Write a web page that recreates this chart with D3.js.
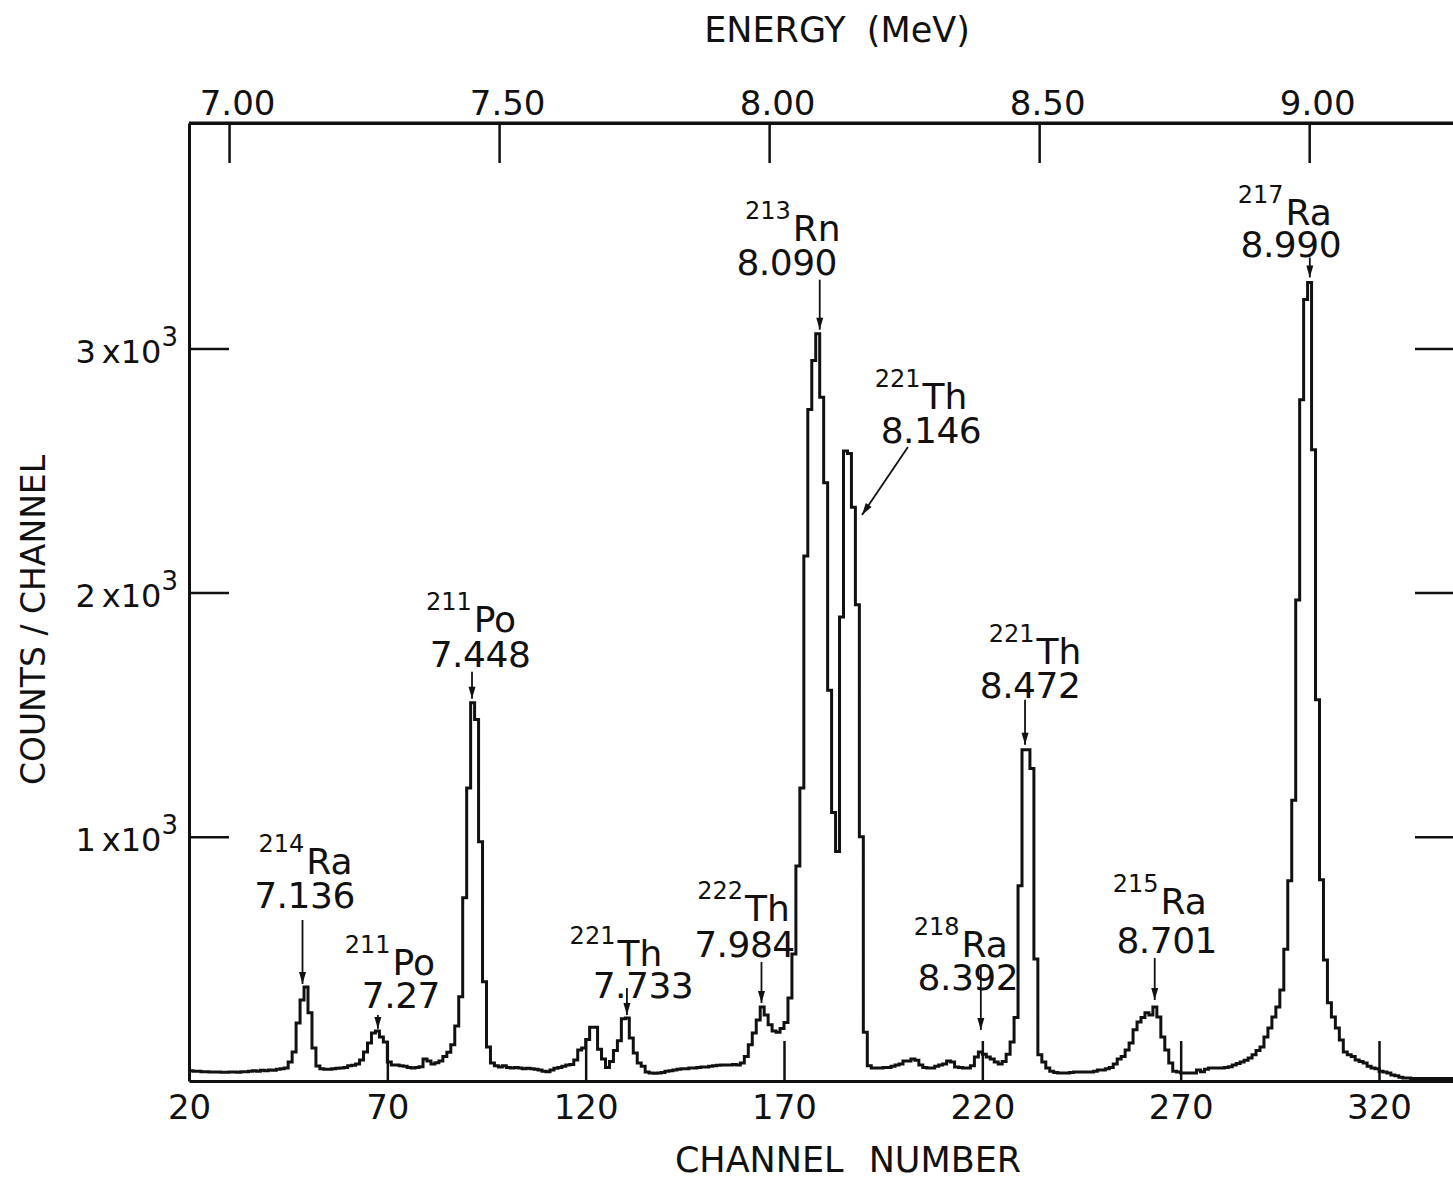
<!DOCTYPE html>
<html>
<head>
<meta charset="utf-8">
<script src="https://cdn.jsdelivr.net/npm/d3@7"></script>
<style>
  body { margin: 0; background: #fff; }
  svg text { font-family: "DejaVu Sans", sans-serif; fill: #111; }
</style>
</head>
<body>
<script>
// counts per channel, channels 20 .. 339
const firstChannel = 20;
const counts = [
    42, 40, 40, 38, 38, 37, 37, 37, 36, 36,          // 20
    37, 37, 36, 38, 38, 40, 42, 40, 44, 42,          // 30
    45, 44, 48, 50, 53, 78, 119, 238, 332, 385,      // 40
    279, 135, 61, 50, 48, 48, 50, 52, 53, 55,        // 50
    62, 64, 70, 86, 119, 156, 197, 205, 180, 160,    // 60
    78, 66, 66, 62, 60, 55, 53, 55, 58, 90,          // 70
    82, 70, 75, 82, 100, 118, 148, 225, 345, 750,    // 80
    1200, 1549, 1480, 980, 406, 139, 74, 62, 57, 62, // 90
    55, 53, 55, 53, 50, 52, 50, 48, 45, 40,          // 100
    38, 45, 52, 55, 60, 66, 68, 86, 127, 135,        // 110
    170, 220, 220, 130, 90, 55, 80, 125, 165, 255,   // 120
    258, 176, 115, 74, 60, 37, 33, 32, 33, 35,       // 130
    40, 42, 45, 48, 50, 50, 53, 53, 55, 57,          // 140
    57, 60, 62, 65, 66, 66, 66, 68, 66, 74,          // 150
    100, 148, 197, 250, 303, 270, 230, 205, 200, 215,      // 160
    240, 340, 520, 880, 1200, 2150, 2750, 2950, 3060, 2800, // 170
    2450, 1600, 1100, 940, 1900, 2580, 2570, 2350, 1950, 1000, // 180
    200, 62, 53, 53, 53, 55, 55, 60, 66, 70,         // 190
    82, 82, 90, 85, 66, 55, 53, 53, 60, 66,          // 200
    70, 82, 78, 57, 55, 53, 53, 62, 98, 119,         // 210
    110, 98, 90, 78, 70, 80, 110, 160, 260, 800,     // 220
    1356, 1356, 1280, 500, 107, 78, 53, 40, 35, 33,  // 230
    33, 33, 35, 37, 37, 37, 37, 37, 40, 45,          // 240
    45, 50, 55, 70, 90, 100, 127, 156, 210, 242,     // 250
    260, 279, 270, 303, 262, 180, 127, 74, 40, 37,   // 260
    33, 33, 33, 33, 45, 38, 48, 53, 53, 53,          // 270
    53, 55, 58, 66, 72, 78, 85, 94, 108, 125,        // 280
    139, 180, 217, 262, 303, 373, 540, 820, 1150, 1970,    // 290
    2790, 3200, 3270, 2585, 1561, 824, 496, 320, 262, 217, // 300
    168, 119, 107, 100, 86, 80, 74, 60, 53, 50,      // 310
    40, 37, 33, 25, 22, 15, 12, 12, 10, 10,          // 320
    10, 10, 10, 10, 10, 10, 10, 10, 10, 10           // 330
];

const channelTicks = [20, 70, 120, 170, 220, 270, 320];
const energyTicks = [7.00, 7.50, 8.00, 8.50, 9.00];
const countTicks = [1000, 2000, 3000];

// energy calibration: channels where 7.00 and 9.00 MeV fall
const calibEnergy = [7.00, 9.00];
const calibChannel = [30.1, 302.4];

// peak labels
const peakMass = ['214', '211', '211', '221', '222', '213', '221', '218', '221', '215', '217'];
const peakElement = ['Ra', 'Po', 'Po', 'Th', 'Th', 'Rn', 'Th', 'Ra', 'Th', 'Ra', 'Ra'];
const peakEnergy = ['7.136', '7.27', '7.448', '7.733', '7.984', '8.090', '8.146', '8.392', '8.472', '8.701', '8.990'];

// where each label sits relative to its arrow tip
const labelLayout = [
    {dx: 0, tdy: -3, tail: [0, -64], hx: 3, hy: -110, ex: 2, ey: -76},
    {dx: 3, tdy: -2, tail: [0, -14], hx: 12, hy: -54, ex: 23, ey: -21},
    {dx: 1, tdy: -4, tail: [0, -27], hx: -1, hy: -67, ex: 8, ey: -32},
    {dx: 2, tdy: -3, tail: [0, -27], hx: -11, hy: -49, ex: 16, ey: -17},
    {dx: 1, tdy: -4, tail: [0, -41], hx: -18, hy: -82, ex: -17, ey: -46},
    {dx: 2, tdy: -4, tail: [0, -50], hx: -27, hy: -89, ex: -33, ey: -55},
    {dx: 14, tdy: 64, tail: [46, -68], hx: 59, hy: -106, ex: 69, ey: -72},
    {dx: 0, tdy: -22, tail: [0, -65], hx: -20, hy: -73, ex: -13, ey: -40},
    {dx: 1, tdy: -5, tail: [0, -45], hx: 10, hy: -81, ex: 5, ey: -47},
    {dx: 7, tdy: -7, tail: [0, -42], hx: 5, hy: -86, ex: 12, ey: -47},
    {dx: 6, tdy: -5, tail: [0, -20], hx: -25, hy: -52, ex: -19, ey: -20}
];

const width = 1453;
const height = 1182;
const plot = {left: 189, right: 1455, top: 123, bottom: 1081};
const pxPerThousand = 244.2;

const svg = d3.select('body')
    .append('svg')
    .attr('width', width)
    .attr('height', height);

// scales
const xScale = d3.scaleLinear()
    .domain([20, 20 + (plot.right - plot.left) * 300 / 1190])
    .range([plot.left, plot.right]);
const yScale = d3.scaleLinear()
    .domain([0, (plot.bottom - plot.top) * 1000 / pxPerThousand])
    .range([plot.bottom, plot.top]);
const energyScale = d3.scaleLinear()
    .domain(calibEnergy)
    .range(calibChannel.map(c => xScale(c)));
const topScale = energyScale.copy()
    .domain([energyScale.invert(plot.left), energyScale.invert(plot.right)])
    .range([plot.left, plot.right]);
const channelOf = e => calibChannel[0] + (e - calibEnergy[0]) * (calibChannel[1] - calibChannel[0]) / (calibEnergy[1] - calibEnergy[0]);

// clip
svg.append('clipPath').attr('id', 'clip')
    .append('rect')
    .attr('x', plot.left).attr('y', plot.top)
    .attr('width', plot.right - plot.left).attr('height', plot.bottom - plot.top);

function styleAxis(g) {
    g.attr('font-family', null).attr('font-size', 34);
    g.select('.domain').attr('stroke', '#111').attr('stroke-width', 3);
    g.selectAll('.tick line').attr('stroke', '#111').attr('stroke-width', 2.5);
}

// bottom axis (channel)
svg.append('g')
    .attr('transform', `translate(0, ${plot.bottom})`)
    .call(d3.axisBottom(xScale).tickValues(channelTicks).tickSizeInner(-40).tickSizeOuter(0).tickPadding(14))
    .call(styleAxis);

// top axis (energy)
svg.append('g')
    .attr('transform', `translate(0, ${plot.top})`)
    .call(d3.axisTop(topScale).tickValues(energyTicks).tickFormat(d3.format('.2f')).tickSizeInner(-40).tickSizeOuter(0).tickPadding(8))
    .call(styleAxis)
    .selectAll('.tick text').attr('dx', 8);

// left axis (counts)
const leftAxis = svg.append('g')
    .attr('transform', `translate(${plot.left}, 0)`)
    .call(d3.axisLeft(yScale).tickValues(countTicks).tickSizeInner(-40).tickSizeOuter(0).tickPadding(11))
    .call(styleAxis);
leftAxis.selectAll('.tick text')
    .attr('dy', 14)
    .attr('font-size', 32)
    .text(null)
    .each(function (d) {
        const t = d3.select(this);
        t.append('tspan').text(`${d / 1000}`);
        t.append('tspan').attr('dx', 6).text('x10');
        t.append('tspan').attr('font-size', 26).attr('dy', -17).text('3');
    });

// right axis (ticks only)
svg.append('g')
    .attr('transform', `translate(${plot.right}, 0)`)
    .call(d3.axisLeft(yScale).tickValues(countTicks).tickSizeInner(40).tickSizeOuter(0).tickFormat(''))
    .call(styleAxis);

// top frame line
svg.append('line')
    .attr('x1', plot.left).attr('x2', plot.right)
    .attr('y1', plot.top).attr('y2', plot.top)
    .attr('stroke', '#111').attr('stroke-width', 3);

// axis titles
svg.append('text')
    .attr('x', 848).attr('y', 1172)
    .attr('text-anchor', 'middle')
    .attr('font-size', 35)
    .attr('word-spacing', 14)
    .text('CHANNEL NUMBER');
svg.append('text')
    .attr('x', 837).attr('y', 42)
    .attr('text-anchor', 'middle')
    .attr('font-size', 35)
    .attr('word-spacing', 10)
    .text('ENERGY (MeV)');
svg.append('text')
    .attr('transform', 'translate(45, 620) rotate(-90)')
    .attr('text-anchor', 'middle')
    .attr('font-size', 33)
    .text('COUNTS / CHANNEL');

// spectrum
const points = counts.map((c, i) => [firstChannel + i, c]);
points.push([firstChannel + counts.length, counts[counts.length - 1]]);

const line = d3.line()
    .x(d => xScale(d[0]))
    .y(d => yScale(d[1]))
    .curve(d3.curveStepAfter);

svg.append('path')
    .datum(points)
    .attr('clip-path', 'url(#clip)')
    .attr('fill', 'none')
    .attr('stroke', '#111')
    .attr('stroke-width', 3)
    .attr('stroke-linejoin', 'miter')
    .attr('d', line);

// peak labels with arrows
const notes = svg.append('g');
peakEnergy.forEach((label, i) => {
    const L = labelLayout[i];
    const e = +label;
    const c = Math.round(channelOf(e));
    const peak = d3.max(counts.slice(c - 2 - firstChannel, c + 3 - firstChannel));
    const tipX = energyScale(e) + L.dx;
    const tipY = yScale(peak) + L.tdy;
    const tailX = tipX + L.tail[0];
    const tailY = tipY + L.tail[1];

    notes.append('line')
        .attr('x1', tailX).attr('y1', tailY)
        .attr('x2', tipX).attr('y2', tipY)
        .attr('stroke', '#111').attr('stroke-width', 1.8);

    const ang = Math.atan2(tipY - tailY, tipX - tailX);
    const ah = 12, aw = 3.5;
    const bx = tipX - ah * Math.cos(ang), by = tipY - ah * Math.sin(ang);
    notes.append('path')
        .attr('d', `M${tipX},${tipY}L${bx - aw * Math.sin(ang)},${by + aw * Math.cos(ang)}L${bx + aw * Math.sin(ang)},${by - aw * Math.cos(ang)}Z`)
        .attr('fill', '#111');

    const head = notes.append('text')
        .attr('x', tipX + L.hx).attr('y', tipY + L.hy)
        .attr('text-anchor', 'middle');
    head.append('tspan').attr('font-size', 24).attr('dy', -22).text(peakMass[i]);
    head.append('tspan').attr('font-size', 36).attr('dy', 22).attr('dx', 2).text(peakElement[i]);

    notes.append('text')
        .attr('x', tipX + L.ex).attr('y', tipY + L.ey)
        .attr('text-anchor', 'middle')
        .attr('font-size', 36)
        .attr('letter-spacing', -0.5)
        .text(label);
});
</script>
</body>
</html>
